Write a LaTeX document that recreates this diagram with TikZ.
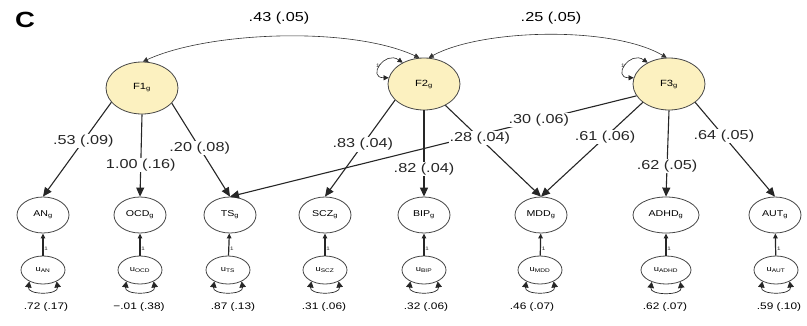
\documentclass[tikz,border=0pt]{standalone}
\usepackage{fontspec}
\setmainfont{Liberation Sans}[FakeStretch=1.25]
\usepackage{tikz}
\definecolor{facfill}{RGB}{252,241,192}
\definecolor{edgegray}{RGB}{70,70,70}
\usetikzlibrary{arrows.meta,positioning,shapes.geometric}

\tikzset{
  factor/.style={ellipse, draw=edgegray, line width=0.8pt, fill=facfill, minimum width=72pt, minimum height=52pt, inner sep=0pt, font=\fontsize{9}{10}\selectfont},
  indic/.style={ellipse, draw=edgegray, line width=0.8pt, fill=white, minimum width=52pt, minimum height=36pt, inner sep=1pt, font=\fontsize{8.5}{9}\selectfont},
  resid/.style={ellipse, draw=edgegray, line width=0.8pt, fill=white, minimum width=44pt, minimum height=28pt, inner sep=0pt, font=\fontsize{7.5}{8}\selectfont},
  load/.style={-{Triangle[length=9pt,width=8pt]}, line width=1.1pt, black!85},
  cov/.style={{Triangle[length=5pt,width=5pt]}-{Triangle[length=5pt,width=5pt]}, line width=0.6pt, black!80},
  fixed/.style={-{Triangle[length=5pt,width=4.5pt]}, line width=1.2pt, black!85},
  varloop/.style={{Triangle[length=5pt,width=5pt]}-{Triangle[length=5pt,width=5pt]}, line width=0.6pt, black!85},
  resloop/.style={{Triangle[length=6pt,width=6.5pt]}-{Triangle[length=6pt,width=6.5pt]}, line width=0.7pt, black!85},
  lbl/.style={fill=white, inner sep=1pt, font=\fontsize{13}{14}\selectfont},
  varlbl/.style={font=\fontsize{9.5}{10}\selectfont},
  onelbl/.style={font=\fontsize{5}{5}\selectfont, inner sep=0.8pt},
}

\begin{document}
\begin{tikzpicture}[x=1pt, y=-1pt]
  \useasboundingbox (0,0) rectangle (807,325);
  \node[font=\fontsize{22}{24}\selectfont\bfseries] (panel) at (25,20) {C};
  % Factors
  \node[factor] (F1) at (142,88) {F1\textsubscript{g}};
  \node[factor] (F2) at (424,84) {F2\textsubscript{g}};
  \node[factor] (F3) at (669,84) {F3\textsubscript{g}};
  % Indicators
  \node[indic] (AN) at (43,215) {AN\textsubscript{g}};
  \node[indic] (OCD) at (140,215) {OCD\textsubscript{g}};
  \node[indic] (TS) at (230,215) {TS\textsubscript{g}};
  \node[indic] (SCZ) at (325,215) {SCZ\textsubscript{g}};
  \node[indic] (BIP) at (424,215) {BIP\textsubscript{g}};
  \node[indic] (MDD) at (541,215) {MDD\textsubscript{g}};
  \node[indic, minimum width=66pt] (ADHD) at (666,215) {ADHD\textsubscript{g}};
  \node[indic] (AUT) at (775,215) {AUT\textsubscript{g}};
  % Residuals
  \node[resid] (uAN) at (43,270) {u\textsubscript{AN}};
  \node[resid] (uOCD) at (140,270) {u\textsubscript{OCD}};
  \node[resid] (uTS) at (228,270) {u\textsubscript{TS}};
  \node[resid] (uSCZ) at (325,270) {u\textsubscript{SCZ}};
  \node[resid] (uBIP) at (424,270) {u\textsubscript{BIP}};
  \node[resid] (uMDD) at (540,270) {u\textsubscript{MDD}};
  \node[resid, minimum width=50pt] (uADHD) at (666,270) {u\textsubscript{ADHD}};
  \node[resid] (uAUT) at (776,270) {u\textsubscript{AUT}};
  % Residual variances
  \node[varlbl] (vAN) at (46,307) {.72 (.17)};
  \node[varlbl] (vOCD) at (139,307) {−.01 (.38)};
  \node[varlbl] (vTS) at (233,307) {.87 (.13)};
  \node[varlbl] (vSCZ) at (324,307) {.31 (.06)};
  \node[varlbl] (vBIP) at (426,307) {.32 (.06)};
  \node[varlbl] (vMDD) at (532,307) {.46 (.07)};
  \node[varlbl] (vADHD) at (665,307) {.62 (.07)};
  \node[varlbl] (vAUT) at (779,307) {.59 (.10)};
  % Factor covariances
  \draw[cov] (F1.88) .. controls +(65pt,30pt) and +(-69pt,32pt) .. (F2.100);
  \draw[cov] (F2.80) .. controls +(53pt,29pt) and +(-55pt,32pt) .. (F3.95);
  \node[lbl] (c12) at (279,18) {.43 (.05)};
  \node[lbl] (c23) at (551,18) {.25 (.05)};
  % Factor variances
  \draw[varloop] (F2.135) .. controls +(145:22pt) and +(180:22pt) .. node[onelbl, left] (o2) {1} (F2.170);
  \draw[varloop] (F3.135) .. controls +(145:22pt) and +(180:22pt) .. node[onelbl, left] (o3) {1} (F3.170);
  % Loadings
  \draw[load] (F1.205) -- node[lbl, pos=0.41] (lAN) {.53 (.09)} (AN.north);
  \draw[load] (F1.south) -- node[lbl, pos=0.62] (lOCD) {1.00 (.16)} (OCD.north);
  \draw[load] (F1.-27) -- node[lbl, pos=0.48] (lTS1) {.20 (.08)} (TS.north);
  \draw[load] (F3.200) -- node[lbl, pos=0.24] (lTS3) {.30 (.06)} (TS.north);
  \draw[load] (F2.209) -- node[lbl, pos=0.46] (lSCZ) {.83 (.04)} (SCZ.north);
  \draw[load] (F2.south) -- node[lbl, pos=0.68] (lBIP) {.82 (.04)} (BIP.north);
  \draw[load] (F2.-45) -- node[lbl, pos=0.36] (lMDD2) {.28 (.04)} (MDD.north);
  \draw[load] (F3.215) -- node[lbl, pos=0.37] (lMDD3) {.61 (.06)} (MDD.north);
  \draw[load] (F3.south) -- node[lbl, pos=0.65] (lADHD) {.62 (.05)} (ADHD.north);
  \draw[load] (F3.-35) -- node[lbl, pos=0.36] (lAUT) {.64 (.05)} (AUT.north);
  % Residual paths
  \draw[fixed] (uAN) -- node[onelbl, right, pos=0.3] (fAN) {1} (AN);
  \draw[fixed] (uOCD) -- node[onelbl, right, pos=0.3] (fOCD) {1} (OCD);
  \draw[fixed] (uTS) -- node[onelbl, right, pos=0.3] (fTS) {1} (TS);
  \draw[fixed] (uSCZ) -- node[onelbl, right, pos=0.3] (fSCZ) {1} (SCZ);
  \draw[fixed] (uBIP) -- node[onelbl, right, pos=0.3] (fBIP) {1} (BIP);
  \draw[fixed] (uMDD) -- node[onelbl, right, pos=0.3] (fMDD) {1} (MDD);
  \draw[fixed] (uADHD) -- node[onelbl, right, pos=0.3] (fADHD) {1} (ADHD);
  \draw[fixed] (uAUT) -- node[onelbl, right, pos=0.3] (fAUT) {1} (AUT);
  % Residual variance loops
  \draw[resloop] (uAN.-140) .. controls +(-100:14pt) and +(-80:14pt) .. (uAN.-40);
  \draw[resloop] (uOCD.-140) .. controls +(-100:14pt) and +(-80:14pt) .. (uOCD.-40);
  \draw[resloop] (uTS.-140) .. controls +(-100:14pt) and +(-80:14pt) .. (uTS.-40);
  \draw[resloop] (uSCZ.-140) .. controls +(-100:14pt) and +(-80:14pt) .. (uSCZ.-40);
  \draw[resloop] (uBIP.-140) .. controls +(-100:14pt) and +(-80:14pt) .. (uBIP.-40);
  \draw[resloop] (uMDD.-140) .. controls +(-100:14pt) and +(-80:14pt) .. (uMDD.-40);
  \draw[resloop] (uADHD.-140) .. controls +(-100:14pt) and +(-80:14pt) .. (uADHD.-40);
  \draw[resloop] (uAUT.-140) .. controls +(-100:14pt) and +(-80:14pt) .. (uAUT.-40);
\end{tikzpicture}
\end{document}
